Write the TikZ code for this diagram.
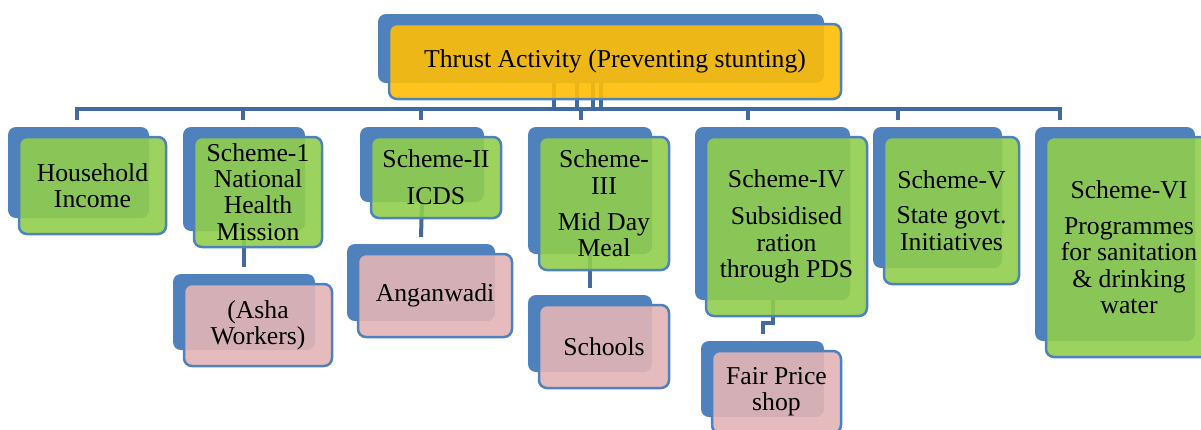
\documentclass[tikz,border=0pt]{standalone}
\usepackage{fontspec}
\setmainfont{Liberation Serif}
\usepackage{tikz}
\usetikzlibrary{backgrounds}
\usepackage{xcolor}
\definecolor{backblue}{RGB}{79,129,189}
\definecolor{linkblue}{RGB}{66,106,158}
\definecolor{grn}{RGB}{144,206,76}
\definecolor{yel}{RGB}{255,189,6}
\definecolor{pnk}{RGB}{227,180,182}

\begin{document}
\begin{tikzpicture}[x=1pt, y=-1pt,
      shadowbox/.style={fill=backblue, rounded corners=8pt, inner sep=0pt, outer sep=0pt},
      card/.style={draw=backblue, line width=2.5pt, fill opacity=0.9, text opacity=1,
          rounded corners=8pt, inner sep=0pt, outer sep=0pt, align=center,
          font=\fontsize{25.7}{26.3}\selectfont},
      link/.style={draw=linkblue, line width=4pt},
    ]
    \useasboundingbox (0,0) rectangle (1201,429);
    \clip (0,0) rectangle (1201,429);

    % Boxes: name / centre x / centre y / width / height / colour / text
    \foreach \n/\x/\y/\w/\h/\c/\t in {
        top/615/61.5/454/77/yel/{Thrust Activity (Preventing stunting)},
        hh/92.5/185.5/149/99/grn/{Household\\Income},
        s1/258/192/130/112/grn/{Scheme-1\\National\\Health\\Mission},
        asha/258/325/150/84/pnk/{(Asha\\Workers)},
        s2/436/177.5/132/83/grn/{Scheme-II\\[11pt]ICDS},
        angan/435/295.5/156/85/pnk/{Anganwadi},
        s3/604/203.5/132/135/grn/{Scheme-\\III\\[10pt]Mid Day\\Meal},
        school/604/346.5/132/85/pnk/{Schools},
        s4/786.5/226.5/163/181/grn/{Scheme-IV\\[11pt]Subsidised\\ration\\through PDS},
        fair/776.5/392/131/84/pnk/{Fair Price\\shop},
        s5/951.5/210.5/137/149/grn/{Scheme-V\\[9pt]State govt.\\Initiatives},
        s6/1129/247/168/222/grn/{Scheme-VI\\[10pt]Programmes\\for sanitation\\\& drinking\\water}} {
        \node[shadowbox, minimum width={\w-8}, minimum height={\h-8}] (\n-b) at ({\x-14}, {\y-13}) {};
        \node[card, fill=\c, minimum width={\w-2}, minimum height={\h-2}] (\n) at (\x, \y) {\t};
      }

    % Connectors behind the boxes
    \begin{scope}[on background layer]
      \coordinate (barL) at (77,109);
      \coordinate (barR) at (1060,109);
      \draw[link] ([yshift=-11pt]barL) -- (barL) -- (barR) -- ([yshift=-11pt]barR);
      \foreach \x in {243,421,581,748,898}
      \draw[link] (\x,109) -- (\x,120);
      \foreach \d in {-47,-24,-8,0}
      \draw[link] ([xshift=\d pt]top-b.south) -- ++(0,26);

      \draw[link] (s1-b.south) -- ([yshift=7pt]asha-b.north);
      \draw[link] (s2-b.south) -- ([yshift=7pt]angan-b.north);
      \draw[link] (s3-b.south) -- ([yshift=7pt]school-b.north);
      \draw[link] (s4-b.south) -- ++(0,23) -| ([yshift=7pt]fair-b.north);
    \end{scope}
  \end{tikzpicture}
\end{document}
